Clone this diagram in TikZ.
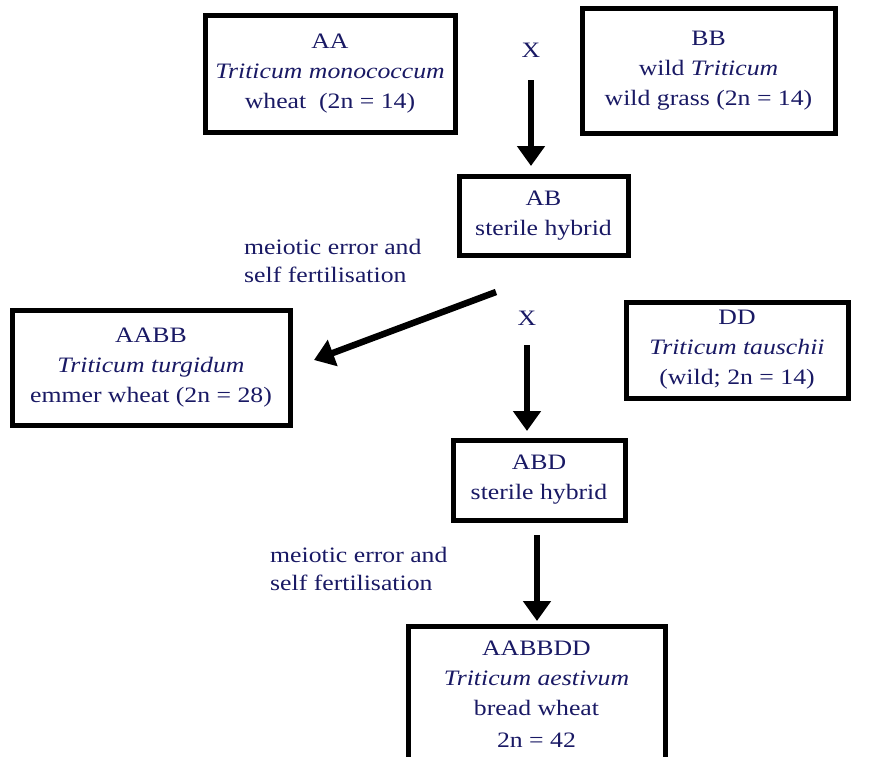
\documentclass[tikz,border=0pt]{standalone}
\usepackage{fontspec}
\setmainfont{Liberation Serif}[FakeStretch=1.17]
\usetikzlibrary{arrows.meta}
\definecolor{navy}{RGB}{25,25,100}
\tikzset{
  box/.style={draw=black, line width=5pt, inner sep=0pt, align=center, text=navy,
    font=\fontsize{22}{30}\selectfont},
  lbl/.style={inner sep=0pt, align=left, text=navy, font=\fontsize{22}{28}\selectfont},
  xlbl/.style={inner sep=0pt, text=navy, font=\fontsize{22}{28}\selectfont},
  arr/.style={line width=6.5pt, -{Triangle[length=20pt,width=27pt]}}
}
\begin{document}
\begin{tikzpicture}[x=1pt,y=-1pt]
\useasboundingbox (0,0) rectangle (871,756);
\clip (0,0) rectangle (871,756);
\node[box, minimum width=250pt, minimum height=117pt] (aa) at (330,73.5)
  {AA\\\textit{Triticum monococcum}\\wheat\ \ (2n = 14)};
\node[box, minimum width=253pt, minimum height=125pt] (bb) at (708.5,70.5)
  {BB\\wild \textit{Triticum}\\wild grass (2n = 14)};
\node[box, minimum width=169pt, minimum height=79pt] (ab) at (543.5,215.5)
  {AB\\sterile hybrid};
\node[box, minimum width=278pt, minimum height=115pt] (aabb) at (151,367.5)
  {AABB\\\textit{Triticum turgidum}\\emmer wheat (2n = 28)};
\node[box, minimum width=222pt, minimum height=96pt] (dd) at (737,350)
  {DD\\\textit{Triticum tauschii}\\(wild; 2n = 14)};
\node[box, minimum width=172pt, minimum height=80pt] (abd) at (539,480)
  {ABD\\sterile hybrid};
\node[box, minimum width=257pt, minimum height=136pt] (aabbdd) at (536.5,694)
  {AABBDD\\\textit{Triticum aestivum}\\bread wheat\\[2pt]2n = 42};
\node[xlbl] (x1) at (531,50) {X};
\node[xlbl] (x2) at (527,318) {X};
\node[lbl, anchor=west] (m1) at (244,261) {meiotic error and\\self fertilisation};
\node[lbl, anchor=west] (m2) at (270,569) {meiotic error and\\self fertilisation};
\coordinate (a1s) at (531,80);
\coordinate (a1e) at (531,166);
\coordinate (a2s) at (496,292);
\coordinate (a2e) at (314,360);
\coordinate (a3s) at (527,345);
\coordinate (a3e) at (527,431);
\coordinate (a4s) at (537,535);
\coordinate (a4e) at (537,621);
\draw[arr] (a1s) -- (a1e);
\draw[arr] (a2s) -- (a2e);
\draw[arr] (a3s) -- (a3e);
\draw[arr] (a4s) -- (a4e);
\end{tikzpicture}
\end{document}
